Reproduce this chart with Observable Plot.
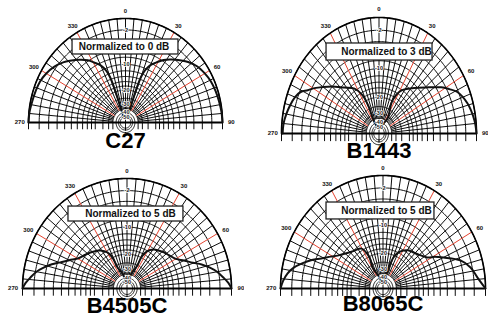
<!DOCTYPE html>
<html><head><meta charset="utf-8">
<script src="https://cdn.jsdelivr.net/npm/d3@7"></script>
<script src="https://cdn.jsdelivr.net/npm/@observablehq/plot@0.6"></script>
<style>
body{margin:0;background:#fff;}
#wrap{position:relative;width:488px;height:318px;overflow:hidden;background:#fff;}
.panel{position:absolute;}
</style></head><body><div id="wrap"></div>
<script>
// ---- data ----
const titles = ["C27", "B1443", "B4505C", "B8065C"];
const notes = ["Normalized to 0 dB", "Normalized to 3 dB", "Normalized to 5 dB", "Normalized to 5 dB"];
const angleTicks = [270, 300, 330, 0, 30, 60, 90];
const dbTicks = [-2, -10, -20, -30, -40, -50];
const ringDb = [0, -2, -4, -6, -8, -10, -12, -14, -16, -18, -20, -25, -30, -35];
const innerRingDb = [-40, -45, -50];

const c27Angle = [-90,-84,-78,-72,-66,-60,-54,-48,-44,-38,-33,-29,-25,-22,-20,-19,-19.5,-15,0,15,19.5,19,20,22,25,29,33,38,44,48,54,60,66,72,78,84,90];
const c27Db    = [0,-0.1,-0.3,-0.45,-0.6,-1.0,-1.6,-2.5,-3.3,-4.6,-5.8,-7.2,-8.6,-10.5,-13.3,-23,-38,-50,-50,-50,-38,-23,-13.3,-10.4,-8.5,-7.1,-5.7,-4.5,-3.2,-2.4,-1.5,-1.0,-0.6,-0.4,-0.25,-0.1,0];

const b1443Angle = [-90,-85,-80,-75,-70,-66,-63,-60,-56,-50,-42,-33,-27,-24.5,-26,-20,0,20,34,26,32,45,52,58,62,66,74,83.5,90];
const b1443Db    = [-0.2,-0.3,-0.6,-1.0,-1.5,-2.2,-3.4,-4.3,-5.8,-7.9,-10.8,-13.3,-17.1,-24,-33,-45,-50,-45,-32,-19.8,-14.2,-10,-7.5,-4.9,-3.5,-2.2,-1.0,-0.25,0];

const b4505Angle = [-90,-87,-83.8,-80,-76.6,-73,-69.6,-65,-60,-53,-47,-41,-36.4,-29.8,-26.2,-25.5,-17.5,-10,0,10,18,25,26,29.5,36,41,47,53,60,65,69.6,73,76.6,80,83.8,87,90];
const b4505Db    = [0,-0.5,-1.26,-2.2,-3.4,-4.9,-6.6,-8.5,-10.4,-11.7,-12.6,-13.6,-14.5,-16.7,-19.9,-26.7,-33.4,-45,-50,-45,-33,-26,-19.5,-16.3,-14.2,-13.4,-12.5,-11.8,-10.6,-8.7,-6.8,-5.0,-3.5,-2.3,-1.3,-0.5,0];

const b8065Angle = [-90,-86,-81.9,-78,-74.5,-70,-66.2,-61,-56.7,-48,-39.6,-30.7,-25.7,-28.7,-20,-10,0,10,14,17,20.4,25,30.8,36,43,50,57.7,61,65.1,71.8,77.7,84,90];
const b8065Db    = [0,-0.4,-1.03,-2.0,-3.3,-5.2,-7.2,-9.3,-10.9,-13.0,-14.3,-15.3,-20.4,-26.6,-38,-48,-50,-48,-38,-28,-21.1,-18,-16.1,-15.0,-14.25,-13.2,-11.46,-9.4,-7.37,-3.92,-2.31,-1.3,0];

const patterns = [[c27Angle, c27Db], [b1443Angle, b1443Db], [b4505Angle, b4505Db], [b8065Angle, b8065Db]];

// ---- layout (pixels) ----
const layout = [
  {left:0,   top:0,   w:244, h:160, ml:28, mr:22, mt:18, mb:38, titleY:-0.173, box:[-0.546,0.546,0.654,0.798], noteX:-0.015},
  {left:244, top:0,   w:244, h:160, ml:37, mr:12, mt:17, mb:27, titleY:-0.147, box:[-0.538,0.549,0.629,0.776], noteX:0.077},
  {left:0,   top:160, w:244, h:158, ml:22, mr:13, mt:18, mb:30, titleY:-0.155, box:[-0.56,0.54,0.609,0.745], noteX:0.033},
  {left:244, top:160, w:244, h:158, ml:36, mr:3,  mt:15, mb:30, titleY:-0.14,  box:[-0.551,0.502,0.611,0.761], noteX:0.034}
];

const rr = d => Math.pow(0.89, -d / 2);
const rad = a => a * Math.PI / 180;
const pol = (a, r) => ({x: r * Math.sin(rad(a)), y: r * Math.cos(rad(a))});
const FONT = "Liberation Sans, Arial, Helvetica, sans-serif";
const GRID = "#000";
const RED = "#e5432f";

const wrap = document.getElementById("wrap");

layout.forEach((L, i) => {
  const ringPts = ringDb.flatMap(d => d3.range(-90, 90.01, 1).map(a => ({ring: d, ...pol(a, rr(d))})));
  const innerPts = innerRingDb.flatMap(d => d3.range(-180, 180.01, 4).map(a => ({ring: d, ...pol(a, rr(d))})));
  const spokes = d3.range(-85, 86, 5).filter(a => ![-60, -30, 30, 60].includes(a));
  const reds = [-60, -30, 30, 60];
  const r0 = rr(-35);
  const [angs, dbs] = patterns[i];
  const pat = angs.map((a, k) => pol(a, rr(dbs[k])));
  const b = L.box;
  const noteY = (b[2] + b[3]) / 2;

  const svg = Plot.plot({
    width: L.w, height: L.h,
    marginLeft: L.ml, marginRight: L.mr, marginTop: L.mt, marginBottom: L.mb,
    x: {domain: [-1, 1], axis: null},
    y: {domain: [0, 1], axis: null},
    style: {fontFamily: FONT, background: "white", overflow: "visible"},
    marks: [
      Plot.line(ringPts, {x: "x", y: "y", z: "ring", stroke: GRID, strokeWidth: 0.95}),
      Plot.ruleX(ringDb.flatMap(d => [-rr(d), rr(d)]), {x: d => d, y1: () => 0, y2: () => -0.07, stroke: GRID, strokeWidth: 0.95}),
      Plot.link(spokes, {x1: a => pol(a, r0).x, y1: a => pol(a, r0).y, x2: a => pol(a, 1).x, y2: a => pol(a, 1).y, stroke: GRID, strokeWidth: 0.95}),
      Plot.link(reds, {x1: a => pol(a, r0).x, y1: a => pol(a, r0).y, x2: a => pol(a, 1).x, y2: a => pol(a, 1).y, stroke: RED, strokeWidth: 1}),
      Plot.line(innerPts, {x: "x", y: "y", z: "ring", stroke: GRID, strokeWidth: 0.9}),
      Plot.ruleX([0], {y1: () => -0.08, y2: () => r0, stroke: GRID, strokeWidth: 0.9}),
      Plot.line(d3.range(-90, 90.01, 1).map(a => pol(a, 1)), {x: "x", y: "y", stroke: "#000", strokeWidth: 1.6}),
      Plot.ruleY([0], {x1: () => -1, x2: () => 1, stroke: "#000", strokeWidth: 2}),
      Plot.line(pat, {x: "x", y: "y", curve: "catmull-rom", stroke: "#111", strokeWidth: 2}),
      Plot.text(dbTicks, {x: () => 0, y: d => rr(d), text: d => String(d), fontSize: 5.5, fontWeight: "bold", fill: "#111", stroke: "white", strokeWidth: 1.5}),
      Plot.rect([b], {x1: d => d[0], x2: d => d[1], y1: d => d[2], y2: d => d[3], fill: "white", stroke: "#222", strokeWidth: 1.3}),
      Plot.text([notes[i]], {x: () => L.noteX, y: () => noteY, text: d => d, fontSize: 10, fontWeight: "bold", fill: "#111"}),
      Plot.text(angleTicks, {x: t => pol(t, 1.09).x, y: t => pol(t, 1.07).y, text: t => String(t), fontSize: 6, fontWeight: "bold", fill: "#111"}),
      Plot.text([titles[i]], {x: () => 0, y: () => L.titleY, text: d => d, fontSize: 22, fontWeight: "bold", fill: "#000"})
    ]
  });
  const div = document.createElement("div");
  div.className = "panel";
  div.style.left = L.left + "px";
  div.style.top = L.top + "px";
  div.style.width = L.w + "px";
  div.style.height = L.h + "px";
  div.appendChild(svg);
  wrap.appendChild(div);
});
</script>
</body></html>
